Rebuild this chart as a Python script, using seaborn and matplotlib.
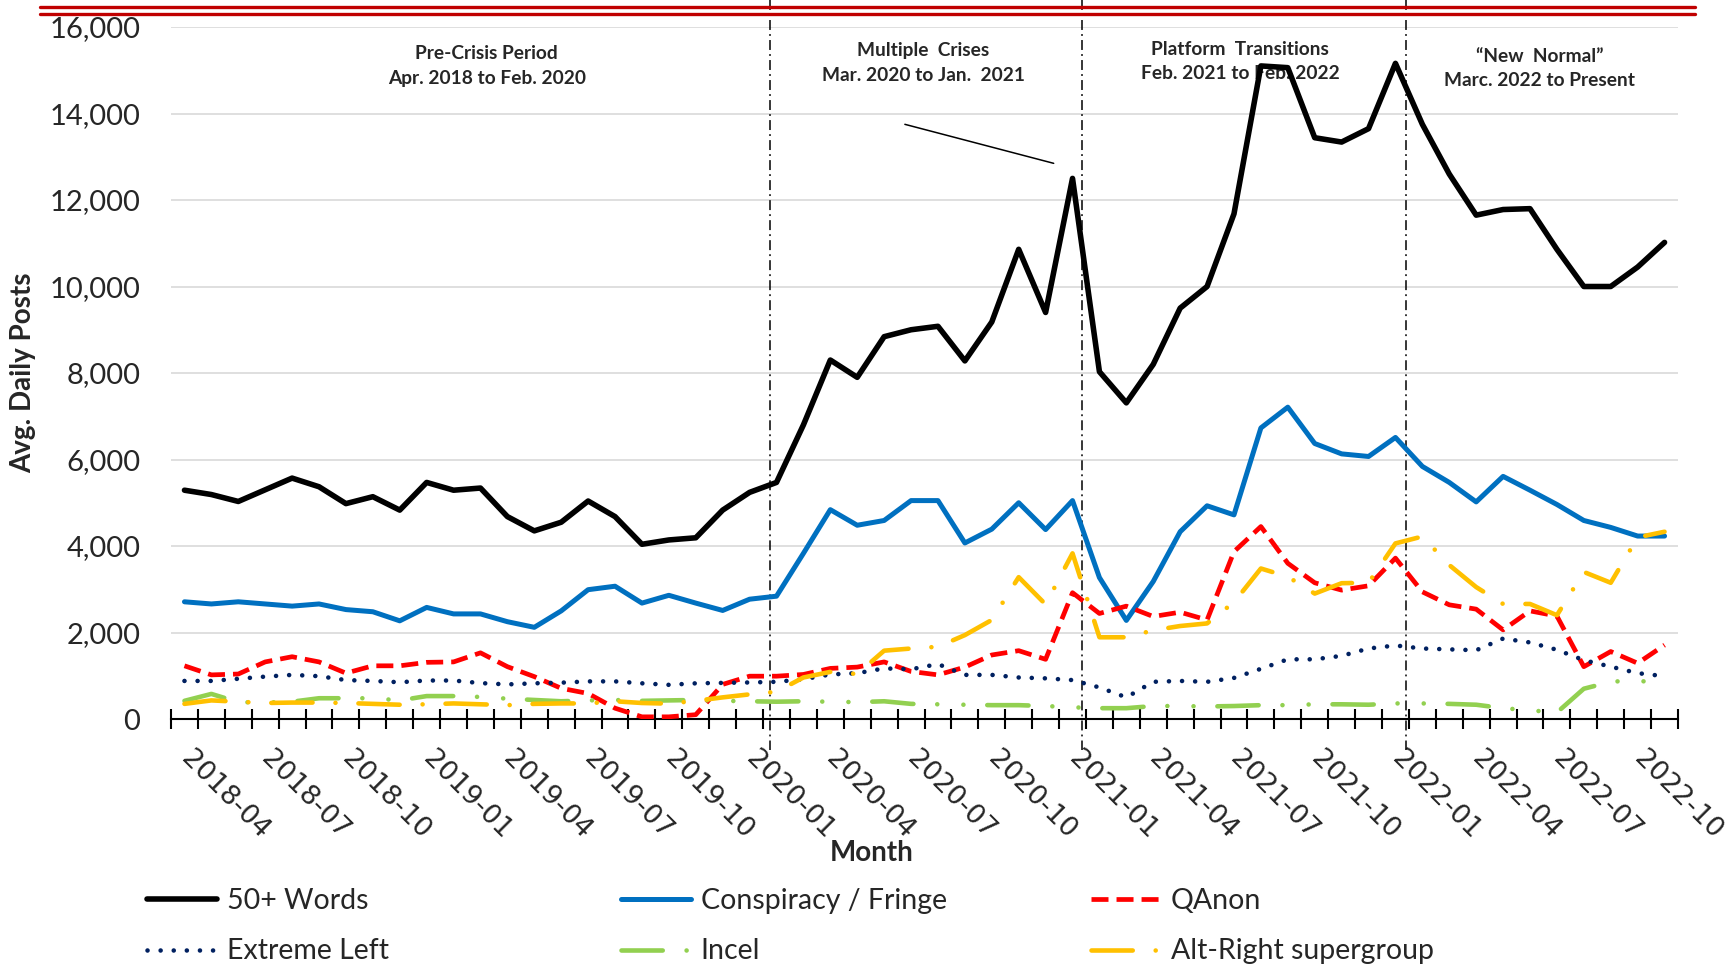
import matplotlib.pyplot as plt
import numpy as np
import pandas as pd
import seaborn as sns

# monthly averages, Apr 2018 - Nov 2022
months = list(pd.period_range("2018-04", periods=56, freq="M").strftime("%Y-%m"))

words_50 = [5290, 5190, 5030, 5300, 5570, 5370, 4980, 5140, 4830, 5470,
            5290, 5340, 4680, 4350, 4550, 5040, 4680, 4040, 4140, 4190,
            4830, 5240, 5470, 6800, 8300, 7900, 8840, 9000, 9080, 8280,
            9180, 10860, 9400, 12500, 8030, 7310, 8200, 9500, 10000, 11680,
            15100, 15060, 13440, 13340, 13650, 15160, 13750, 12600, 11650, 11780,
            11800, 10860, 10000, 10000, 10450, 11020]
conspiracy = [2710, 2660, 2710, 2660, 2610, 2660, 2530, 2480, 2270, 2580,
              2430, 2430, 2250, 2120, 2500, 2990, 3070, 2680, 2860, 2680,
              2510, 2770, 2840, 3830, 4840, 4480, 4590, 5050, 5050, 4070,
              4390, 5000, 4380, 5050, 3270, 2280, 3180, 4330, 4930, 4720,
              6730, 7210, 6370, 6130, 6070, 6510, 5840, 5470, 5020, 5610,
              5290, 4960, 4590, 4430, 4230, 4230]
qanon = [1230, 1020, 1040, 1320, 1440, 1320, 1060, 1230, 1230, 1310,
         1320, 1530, 1210, 980, 710, 590, 250, 50, 50, 100,
         800, 990, 990, 1030, 1170, 1200, 1320, 1100, 1020, 1200,
         1480, 1580, 1380, 2920, 2440, 2610, 2370, 2470, 2290, 3870,
         4450, 3600, 3150, 2980, 3080, 3720, 2940, 2640, 2540, 2060,
         2500, 2380, 1210, 1560, 1290, 1710]
extreme_left = [880, 880, 930, 980, 1020, 990, 900, 880, 850, 890,
                890, 830, 800, 825, 840, 870, 870, 825, 790, 825,
                835, 845, 860, 920, 1030, 1060, 1170, 1150, 1270, 1020,
                1020, 960, 940, 900, 730, 500, 860, 880, 860, 950,
                1160, 1380, 1380, 1460, 1630, 1700, 1630, 1610, 1590, 1860,
                1770, 1600, 1360, 1210, 1060, 990]
incel = [420, 580, 390, 380, 400, 480, 480, 480, 430, 530,
         530, 510, 470, 440, 410, 430, 440, 420, 430, 440,
         420, 410, 400, 410, 400, 390, 410, 350, 340, 330,
         320, 320, 300, 270, 250, 250, 300, 300, 290, 300,
         320, 320, 340, 340, 330, 360, 360, 350, 330, 250,
         200, 150, 700, 860, 900, 770]
alt_right = [350, 430, 400, 370, 380, 380, 370, 350, 330, 340,
             360, 340, 320, 350, 360, 360, 410, 370, 355, 420,
             500, 570, 630, 960, 1090, 1040, 1580, 1630, 1670, 1940,
             2290, 3280, 2650, 3830, 1890, 1890, 2050, 2150, 2210, 2700,
             3480, 3290, 2900, 3140, 3150, 4060, 4220, 3560, 3050, 2660,
             2660, 2400, 3400, 3150, 4200, 4330]

period_titles = ["Pre-Crisis Period\nApr. 2018 to Feb. 2020",
                 "Multiple  Crises\nMar. 2020 to Jan.  2021",
                 "Platform  Transitions\nFeb. 2021 to Feb. 2022",
                 "\u201cNew  Normal\u201d\nMarc. 2022 to Present"]

df = pd.DataFrame({
    "idx": np.arange(len(months)),
    "month": months,
    "50+ Words": words_50,
    "Conspiracy / Fringe": conspiracy,
    "QAnon": qanon,
    "Extreme Left": extreme_left,
    "Incel": incel,
    "Alt-Right supergroup": alt_right,
})

styles = {
    "50+ Words": dict(color="#000000", lw=4.0, ls="-"),
    "Conspiracy / Fringe": dict(color="#0070C0", lw=3.6, ls="-"),
    "QAnon": dict(color="#FF0000", lw=3.4, ls=(0, (3.6, 1.7))),
    "Extreme Left": dict(color="#002060", lw=3.3, ls=(0, (0.01, 2.85)),
                         dash_capstyle="round"),
    "Incel": dict(color="#92D050", lw=3.3, ls=(0, (9, 5.2, 0.01, 5.7, 0.01, 5.2)),
                  dash_capstyle="round"),
    "Alt-Right supergroup": dict(color="#FFC000", lw=3.3, ls=(0, (9, 5.0, 0.01, 5.0)),
                                 dash_capstyle="round"),
}

sns.set_theme(style="white")
plt.rcParams["font.family"] = ["Lato", "DejaVu Sans"]

fig = plt.figure(figsize=(17.31, 9.67), dpi=100)
ax = fig.add_axes([0.09879, 0.25646, 0.87060, 0.71561])

handles = []
for name, st in styles.items():
    sns.lineplot(data=df, x="idx", y=name, ax=ax, legend=False, zorder=3,
                 color=st["color"], linewidth=st["lw"], linestyle=st["ls"],
                 dash_capstyle=st.get("dash_capstyle", "butt"))
    line = ax.lines[-1]
    line.set_label(name)
    handles.append(line)

ax.set_xlim(-0.5, len(months) - 0.5)
ax.set_ylim(0, 16000)

# y axis
ax.set_yticks(np.arange(0, 16001, 2000))
ax.set_yticklabels([f"{v:,}" for v in range(0, 16001, 2000)])
ax.tick_params(axis="y", length=0, pad=22, labelsize=21)
ax.grid(axis="y", color="#D9D9D9", lw=1.2)
ax.grid(axis="x", visible=False)
ax.set_axisbelow(True)

# x axis: labels every 3 months, tick marks between months
ax.set_xticks(np.arange(0, len(months), 3))
ax.set_xticklabels(months[::3], rotation=-45, rotation_mode="anchor",
                   ha="left", va="center", fontfamily="DejaVu Sans", fontsize=19.5)
ax.set_xticks(np.arange(-0.5, len(months), 1), minor=True)
ax.tick_params(axis="x", which="major", length=0, pad=26)
ax.tick_params(axis="x", which="minor", direction="inout", length=14,
               width=1.5, color="black", bottom=True)

for side in ["left", "right", "top"]:
    ax.spines[side].set_visible(False)
ax.spines["bottom"].set_color("black")
ax.spines["bottom"].set_linewidth(1.5)

ax.set_ylabel("Avg. Daily Posts", fontsize=20, fontweight="bold", va="center")
ax.yaxis.set_label_coords(-0.0982, 0.5)
ax.set_xlabel("Month", fontsize=20, fontweight="bold", va="center")
ax.xaxis.set_label_coords(0.465, -0.1936)

# period boundaries and titles
xt = ax.get_xaxis_transform()
for xb in [21.75, 33.35, 45.38]:
    ax.plot([xb, xb], [1.039, -0.045], transform=xt, clip_on=False,
            color="black", lw=1.1, ls=(0, (6.5, 2.7, 1.2, 2.7)), zorder=2)

for title, tx, ty in zip(period_titles, [11.23, 27.46, 39.23, 50.37],
                         [15100, 15170, 15200, 15040]):
    ax.text(tx, ty, title, ha="center", va="center", fontsize=13.8,
            fontweight="bold", linespacing=1.55, zorder=1)

ax.annotate("", xy=(32.3, 12848), xytext=(26.77, 13750),
            arrowprops=dict(arrowstyle="-", color="black", lw=1.1,
                            shrinkA=0, shrinkB=0))

# double red rule at the top
for yy in [0.99307, 0.98552]:
    fig.add_artist(plt.Line2D([0.0231, 0.979], [yy, yy], color="#C00000", lw=2.4))

# legend, three columns
for col, x0 in zip([(0, 3), (1, 4), (2, 5)], [0.0849, 0.3588, 0.6303]):
    fig.legend([handles[i] for i in col], [handles[i].get_label() for i in col],
               loc="center left", bbox_to_anchor=(x0, 0.042), frameon=False,
               fontsize=20.5, handlelength=2.45, handletextpad=0.35,
               labelspacing=0.85, borderpad=0, borderaxespad=0)

fig.savefig("out.png", dpi=100)
